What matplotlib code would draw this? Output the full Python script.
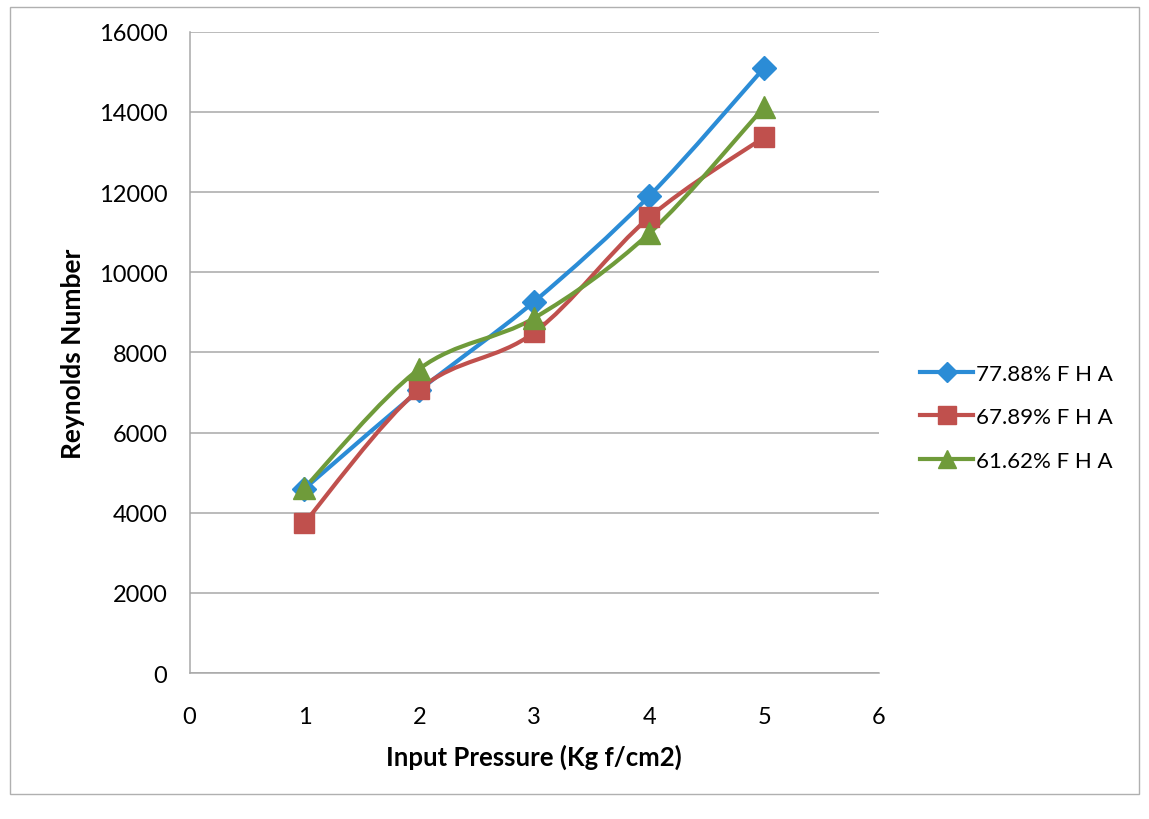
import matplotlib
matplotlib.use("Agg")
import matplotlib.pyplot as plt
import numpy as np
from matplotlib.lines import Line2D
from matplotlib.patches import PathPatch, Rectangle
from matplotlib.path import Path

# Input pressure (Kg f/cm2) and Reynolds number per free-hole-area case
pressure = [1, 2, 3, 4, 5]
re_7788 = [4600, 7050, 9270, 11900, 15100]
re_6789 = [3750, 7080, 8500, 11370, 13370]
re_6162 = [4620, 7590, 8860, 10970, 14120]

series_labels = ["77.88% F H A", "67.89% F H A", "61.62% F H A"]
x_ticks = [0, 1, 2, 3, 4, 5, 6]
y_ticks = [0, 2000, 4000, 6000, 8000, 10000, 12000, 14000, 16000]

COLORS = ["#2B8CD6", "#C0504D", "#6F9B3A"]
MARKERS = [("D", 12), ("s", 15), ("^", 16)]


def smooth_path(xs, ys):
    # Bezier curve through the points, like a spreadsheet "smoothed line"
    pts = np.column_stack([xs, ys]).astype(float)
    n = len(pts)
    verts = [pts[0]]
    codes = [Path.MOVETO]
    for i in range(n - 1):
        p0 = pts[max(i - 1, 0)]
        p1 = pts[i]
        p2 = pts[i + 1]
        p3 = pts[min(i + 2, n - 1)]
        verts += [p1 + (p2 - p0) / 6.0, p2 - (p3 - p1) / 6.0, p2]
        codes += [Path.CURVE4] * 3
    return Path(verts, codes)


plt.rcParams["font.family"] = ["Lato", "DejaVu Sans"]

fig = plt.figure(figsize=(11.49, 8.2), dpi=100)
ax = fig.add_axes([0.165, 0.178, 0.6, 0.782])

handles = []
for ys, color, (mk, ms), label in zip([re_7788, re_6789, re_6162], COLORS, MARKERS, series_labels):
    ax.add_patch(PathPatch(smooth_path(pressure, ys), facecolor="none", edgecolor=color,
                           linewidth=3.0, capstyle="round", joinstyle="round", zorder=3))
    ax.plot(pressure, ys, linestyle="none", marker=mk, markersize=ms, color=color,
            markeredgecolor=color, zorder=4)
    handles.append(Line2D([], [], color=color, linewidth=3.0, marker=mk,
                          markersize=ms * 0.85, label=label))

ax.set_xlim(0, 6)
ax.set_ylim(0, 16000)
ax.set_xticks(x_ticks)
ax.set_yticks(y_ticks)
ax.tick_params(axis="x", length=0, pad=24, labelsize=17)
ax.tick_params(axis="y", length=0, pad=16, labelsize=17)
ax.yaxis.grid(True, color="#A8A8A8", linewidth=1.1)
ax.set_axisbelow(True)
for side in ["top", "right"]:
    ax.spines[side].set_visible(False)
for side in ["left", "bottom"]:
    ax.spines[side].set_color("#A8A8A8")
    ax.spines[side].set_linewidth(1.1)

ax.set_xlabel("Input Pressure (Kg f/cm2)", fontsize=18.5, fontweight="bold", labelpad=12)
ax.set_ylabel("Reynolds Number", fontsize=19, fontweight="bold", labelpad=10)

fig.legend(handles=handles, loc="center left", bbox_to_anchor=(0.793, 0.49),
           frameon=False, fontsize=16, handlelength=2.4, handletextpad=0.1,
           labelspacing=1.05, borderaxespad=0)

# chart area border
fig.add_artist(Rectangle((0.009, 0.03), 0.982, 0.96, transform=fig.transFigure,
                         facecolor="none", edgecolor="#B0B0B0", linewidth=1.0))

fig.savefig("out.png", dpi=100)
